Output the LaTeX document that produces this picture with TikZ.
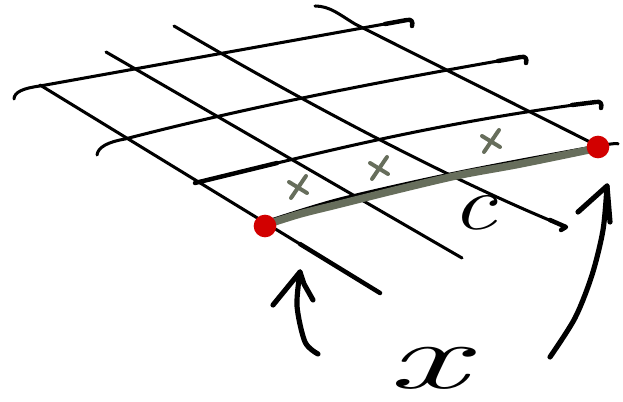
\documentclass[tikz,border=0pt]{standalone}
\usepackage{graphicx}

\definecolor{pathgray}{RGB}{103,110,92}
\definecolor{dotred}{RGB}{210,0,0}

\begin{document}
\begin{tikzpicture}[x=0.03cm, y=-0.03cm,
  gridln/.style={line width=2.6pt, line cap=round, line join=round},
  hookln/.style={line width=3.8pt, line cap=round, line join=round},
  pathln/.style={draw=pathgray, line width=6.5pt, line cap=round, line join=round},
  crossln/.style={draw=pathgray, line width=3.4pt, line cap=round},
  arrowln/.style={line width=4.4pt, line cap=round, line join=round},
  reddot/.style={circle, fill=dotred, minimum size=0.68cm, inner sep=0pt},
  lbl/.style={inner sep=0pt, font=\itshape},
]
\useasboundingbox (0,0) rectangle (623,402);

% lines running down to the right
\draw[gridln] (40,85) -- (380,293);
\draw[hookln] (300,244) -- (380,293);
\draw[gridln] (106,52) -- (462,258);
\draw[gridln] (174,26) .. controls (300,100) and (450,180) .. (566,227);
\draw[hookln] (550,220) -- (566,227) -- (561,230);
\draw[gridln] (315,6) .. controls (330,6) and (340,15) .. (355,24) -- (594,144);

% lines running across
\draw[gridln] (14,99) .. controls (14,92) and (24,88) .. (40,86) -- (407,20);
\draw[hookln] (385,24) -- (407,20) .. controls (412,19) and (413,22) .. (412,26);
\draw[gridln] (97,155) .. controls (98,147) and (108,142) .. (125,139)
  .. controls (260,104) and (400,78) .. (521,57);
\draw[hookln] (498,61) -- (521,57) .. controls (526,56) and (527,59) .. (526,63);
\draw[gridln] (195,183) .. controls (300,158) and (420,125) .. (596,102);
\draw[hookln] (195,183) -- (277,163);
\draw[hookln] (572,105) -- (596,102) .. controls (601,101) and (602,104) .. (601,108);
\draw[gridln] plot[smooth] coordinates {(268,221) (340,199) (460,172) (598,146) (618,144)};

% the path and its points
\draw[pathln] plot[smooth] coordinates {(265,225) (300,214) (340,204) (400,189) (460,175) (520,164) (598,148)};
\foreach \p in {(298,187), (379,168), (491,141)} {
  \draw[crossln, shift={\p}] (8,-11) -- (-7,11);
  \draw[crossln, shift={\p}] (-9,-5) -- (9,6);
}
\node[reddot] (start) at (265,226) {};
\node[reddot] (end) at (598,147) {};

% labels
\node[lbl] (clbl) at (474,213) {\fontsize{66}{66}\selectfont\scalebox{1.3}[1]{c}};
\node[lbl] (xlbl) at (427,368) {\fontsize{50}{50}\selectfont\scalebox{3.0}[1.6]{x}};

% arrows pointing at the two points
\coordinate (ltip) at (300,272);
\draw[arrowln] plot[smooth] coordinates {(318,354) (305,342) (297,306) (300,272)};
\draw[arrowln] (273,305) -- (ltip) -- (304,284) -- (313,300);
\coordinate (rtip) at (607,186);
\draw[arrowln] plot[smooth] coordinates {(550,357) (575,318) (592,275) (603,230) (607,186)};
\draw[arrowln] (578,212) -- (rtip) -- (610,222);
\end{tikzpicture}
\end{document}
